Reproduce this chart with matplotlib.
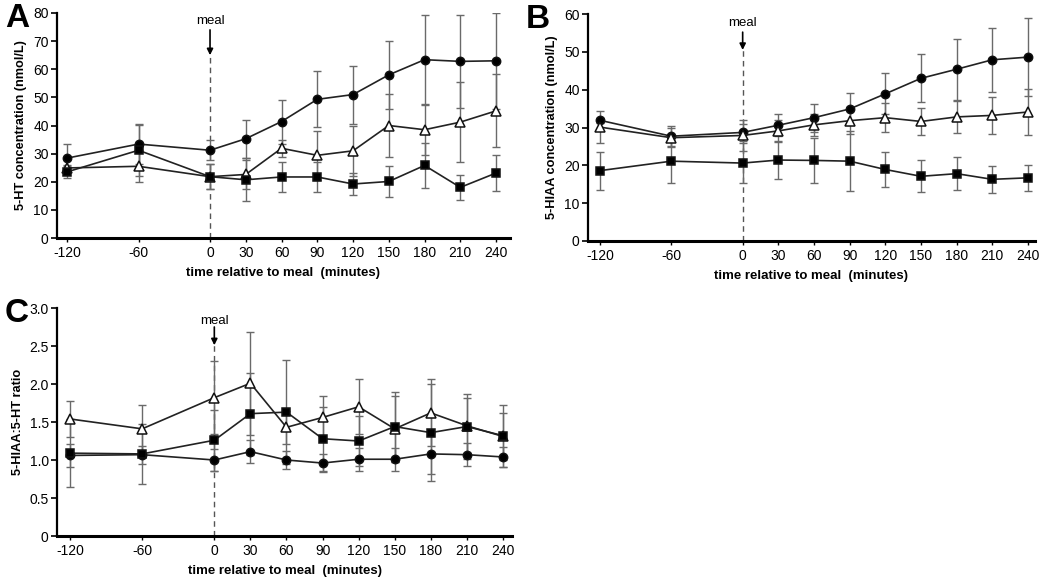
import numpy as np
import matplotlib.pyplot as plt

plt.rcParams['font.family'] = ['Liberation Sans', 'DejaVu Sans']

# time points (minutes relative to meal)
t = [-120, -60, 0, 30, 60, 90, 120, 150, 180, 210, 240]

# Panel A: 5-HT (nmol/L)
a_circ = [28.4, 33.4, 31.2, 35.3, 41.4, 49.3, 51.0, 58.0, 63.4, 62.8, 63.0]
a_circ_err = [5.0, 7.0, 3.5, 6.7, 7.8, 10.0, 10.3, 12.0, 16.0, 16.5, 17.0]
a_tri = [24.9, 25.5, 21.8, 22.6, 31.9, 29.4, 31.0, 40.0, 38.5, 41.2, 45.2]
a_tri_err = [1.2, 5.7, 4.5, 5.0, 3.0, 8.8, 9.0, 11.2, 9.0, 14.2, 13.0]
a_sq = [23.5, 31.2, 21.8, 20.7, 21.7, 21.7, 19.2, 20.1, 25.8, 18.0, 23.1]
a_sq_err = [2.0, 9.0, 4.5, 7.7, 5.5, 5.5, 4.0, 5.4, 7.9, 4.5, 6.4]

# Panel B: 5-HIAA (nmol/L)
b_circ = [31.9, 27.7, 28.7, 30.6, 32.6, 34.9, 38.9, 43.0, 45.4, 47.9, 48.6]
b_circ_err = [0.7, 2.7, 2.3, 2.9, 3.7, 4.3, 5.4, 6.3, 8.0, 8.5, 10.3]
b_tri = [30.1, 27.3, 27.9, 29.1, 30.7, 31.8, 32.6, 31.6, 32.8, 33.2, 34.1]
b_tri_err = [4.3, 2.5, 4.0, 3.0, 3.0, 3.5, 3.8, 3.6, 4.2, 4.8, 6.0]
b_sq = [18.6, 21.1, 20.6, 21.4, 21.3, 21.1, 18.9, 17.1, 17.8, 16.3, 16.7]
b_sq_err = [5.0, 5.7, 5.4, 4.9, 5.9, 8.0, 4.5, 4.2, 4.4, 3.6, 3.4]

# Panel C: 5-HIAA:5-HT ratio
c_circ = [1.06, 1.07, 1.00, 1.11, 1.00, 0.96, 1.01, 1.01, 1.08, 1.07, 1.04]
c_circ_err = [0.15, 0.12, 0.15, 0.15, 0.12, 0.12, 0.15, 0.15, 0.27, 0.15, 0.13]
c_tri = [1.54, 1.41, 1.82, 2.01, 1.43, 1.56, 1.70, 1.41, 1.62, 1.45, 1.31]
c_tri_err = [0.24, 0.31, 0.48, 0.68, 0.22, 0.28, 0.36, 0.43, 0.44, 0.36, 0.31]
c_sq = [1.09, 1.08, 1.26, 1.61, 1.63, 1.28, 1.25, 1.44, 1.36, 1.44, 1.32]
c_sq_err = [0.45, 0.40, 0.40, 0.54, 0.68, 0.42, 0.33, 0.46, 0.64, 0.43, 0.41]

W, H = 1050, 577
fig = plt.figure(figsize=(W / 100, H / 100), dpi=100)


def box(x0, x1, ytop, ybot):
    return [x0 / W, 1 - ybot / H, (x1 - x0) / W, (ybot - ytop) / H]


def panel(rect, xlim, ylim, yticks, ytl, series, ylabel, letter, meal, lx=-0.115):
    ax = fig.add_axes(rect)
    for y, e, m, fc in series:
        ax.errorbar(t, y, yerr=e, fmt='none', ecolor='#6a6a6a', elinewidth=1,
                    capsize=3, capthick=1, zorder=1)
        ax.plot(t, y, color='#222222', lw=1.2, marker=m, ms=6 if m != '^' else 7,
                mfc=fc, mec='#111111', mew=1.1, zorder=3)
    ax.set_xlim(*xlim)
    ax.set_ylim(*ylim)
    ax.set_xticks(t)
    ax.set_xticklabels([str(v) for v in t], fontsize=10)
    ax.set_yticks(yticks)
    ax.set_yticklabels(ytl, fontsize=10)
    ax.spines['top'].set_visible(False)
    ax.spines['right'].set_visible(False)
    ax.spines['left'].set_linewidth(1.6)
    ax.spines['bottom'].set_linewidth(2.2)
    ax.tick_params(axis='y', direction='out', length=4, width=1.2, pad=2)
    ax.tick_params(axis='x', direction='out', length=3, width=1, pad=3)
    ax.set_xlabel('time relative to meal  (minutes)', fontsize=9.5,
                  fontweight='bold', labelpad=5)
    ax.set_ylabel(ylabel, fontsize=9.2, fontweight='bold', labelpad=4)
    # meal marker
    txt_y, arr_top, arr_tip = meal
    ax.plot([0, 0], [ylim[0], arr_tip], ls=(0, (4, 3)), color='#555555', lw=1, zorder=0)
    ax.annotate('', xy=(0, arr_tip), xytext=(0, arr_top),
                arrowprops=dict(arrowstyle='-|>', color='black', lw=1.2,
                                mutation_scale=9, shrinkA=0, shrinkB=0))
    ax.text(0, txt_y, 'meal', ha='center', va='center', fontsize=9.5)
    ax.text(lx, 1.045, letter, transform=ax.transAxes, fontsize=24,
            fontweight='bold', ha='left', va='top')
    return ax


panel(box(57, 510, 13, 238), (-128.4, 251.7), (0, 80),
      range(0, 81, 10), [str(v) for v in range(0, 81, 10)],
      [(a_circ, a_circ_err, 'o', 'black'), (a_tri, a_tri_err, '^', 'white'),
       (a_sq, a_sq_err, 's', 'black')],
      '5-HT concentration (nmol/L)', 'A', (77, 74, 65))

panel(box(588, 1035, 14, 241), (-130.1, 245.9), (0, 60),
      range(0, 61, 10), [str(v) for v in range(0, 61, 10)],
      [(b_circ, b_circ_err, 'o', 'black'), (b_tri, b_tri_err, '^', 'white'),
       (b_sq, b_sq_err, 's', 'black')],
      '5-HIAA concentration (nmol/L)', 'B', (57.5, 55.2, 50.5), lx=-0.14)

cticks = [0, 0.5, 1.0, 1.5, 2.0, 2.5, 3.0]
panel(box(57, 512, 308, 536), (-130.8, 247.5), (0, 3.0),
      cticks, ['0', '0.5', '1.0', '1.5', '2.0', '2.5', '3.0'],
      [(c_circ, c_circ_err, 'o', 'black'), (c_tri, c_tri_err, '^', 'white'),
       (c_sq, c_sq_err, 's', 'black')],
      '5-HIAA:5-HT ratio', 'C', (2.83, 2.75, 2.51))

fig.savefig('out.png', dpi=100)
